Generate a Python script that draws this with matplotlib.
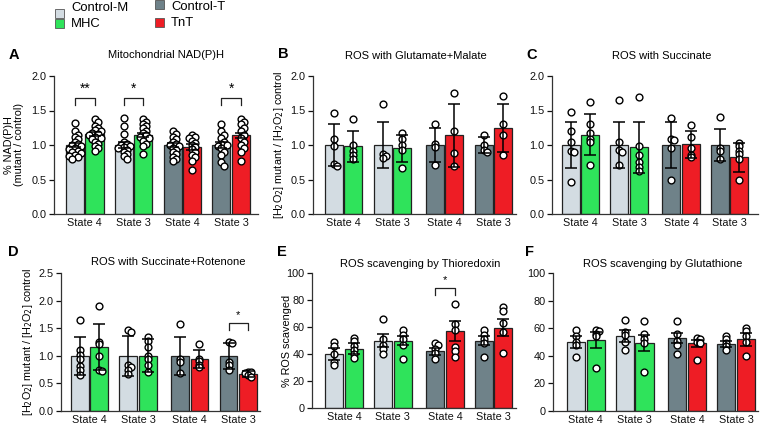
import matplotlib
matplotlib.use('Agg')
import matplotlib.pyplot as plt
import numpy as np
from matplotlib.patches import Rectangle

plt.rcParams['font.family'] = ['Liberation Sans', 'DejaVu Sans']

W, H = 766, 425

# order in every panel: Control-M S4, MHC S4, Control-M S3, MHC S3, Control-T S4, TnT S4, Control-T S3, TnT S3
series_names = ['Control-M', 'MHC', 'Control-T', 'TnT']
series_colors = ['#d3dce2', '#2fe35b', '#6f8289', '#ee1d25']
bar_colors = ['#d3dce2', '#2fe35b', '#d3dce2', '#2fe35b', '#6f8289', '#ee1d25', '#6f8289', '#ee1d25']
state_labels = ['State 4', 'State 3', 'State 4', 'State 3']

# A - Mitochondrial NAD(P)H
nadph_means = [1.0, 1.16, 1.0, 1.15, 1.0, 0.97, 1.0, 1.14]
nadph_err = [0.03, 0.03, 0.04, 0.03, 0.03, 0.04, 0.04, 0.04]
nadph_points = [
    [1.32, 1.2, 1.15, 1.12, 1.08, 1.05, 1.02, 1.0, 0.98, 0.96, 0.94, 0.92, 0.9, 0.88, 0.86, 0.84, 0.82, 0.8],
    [1.38, 1.33, 1.28, 1.25, 1.22, 1.2, 1.18, 1.16, 1.14, 1.12, 1.1, 1.08, 1.05, 1.02, 0.98, 0.95, 0.92],
    [1.39, 1.28, 1.16, 1.05, 1.02, 1.0, 0.99, 0.97, 0.95, 0.93, 0.9, 0.87, 0.84, 0.8],
    [1.37, 1.33, 1.3, 1.27, 1.24, 1.2, 1.17, 1.14, 1.12, 1.1, 1.06, 1.02, 0.98, 0.87],
    [1.2, 1.16, 1.12, 1.08, 1.05, 1.02, 1.0, 0.98, 0.96, 0.93, 0.9, 0.87, 0.83, 0.8, 0.77],
    [1.15, 1.12, 1.1, 1.06, 1.03, 1.0, 0.97, 0.94, 0.9, 0.86, 0.82, 0.77, 0.64],
    [1.31, 1.2, 1.15, 1.1, 1.05, 1.02, 1.0, 0.98, 0.95, 0.9, 0.85, 0.75, 0.7],
    [1.38, 1.34, 1.3, 1.25, 1.2, 1.15, 1.1, 1.05, 1.0, 0.95, 0.9, 0.77],
]

# B - ROS with Glutamate+Malate
gm_means = [1.0, 0.98, 1.0, 0.95, 1.0, 1.14, 1.0, 1.25]
gm_err = [0.31, 0.23, 0.33, 0.2, 0.24, 0.46, 0.12, 0.35]
gm_points = [
    [1.47, 1.09, 0.99, 0.72, 0.70],
    [1.38, 1.0, 0.91, 0.86, 0.79],
    [1.59, 0.87, 0.84, 0.81],
    [1.17, 1.08, 1.0, 0.93, 0.67],
    [1.3, 1.01, 0.97, 0.71],
    [1.76, 1.21, 0.89, 0.7],
    [1.14, 1.0, 0.93, 0.9],
    [1.71, 1.3, 1.15, 0.85],
]

# C - ROS with Succinate
suc_means = [1.0, 1.15, 1.0, 0.97, 1.0, 1.01, 1.0, 0.82]
suc_err = [0.34, 0.3, 0.34, 0.37, 0.33, 0.2, 0.23, 0.21]
suc_points = [
    [1.48, 1.2, 1.04, 0.92, 0.9, 0.47],
    [1.63, 1.3, 1.17, 1.08, 1.04, 0.71],
    [1.65, 1.05, 0.93, 0.9, 0.71],
    [1.7, 0.99, 0.86, 0.76, 0.68, 0.62],
    [1.39, 1.08, 1.07, 0.96, 0.5],
    [1.29, 1.11, 0.96, 0.86, 0.82],
    [1.41, 0.96, 0.92, 0.8],
    [1.03, 0.98, 0.92, 0.87, 0.79, 0.5],
]

# D - ROS with Succinate+Rotenone
rot_means = [1.0, 1.16, 1.0, 1.0, 1.0, 0.94, 1.0, 0.67]
rot_err = [0.34, 0.42, 0.36, 0.3, 0.34, 0.16, 0.24, 0.06]
rot_points = [
    [1.64, 1.1, 1.02, 0.95, 0.81, 0.74, 0.66],
    [1.9, 1.25, 1.21, 1.0, 0.75, 0.72],
    [1.47, 1.44, 0.83, 0.8, 0.74, 0.67],
    [1.34, 1.27, 1.16, 0.99, 0.95, 0.83, 0.71],
    [1.58, 0.95, 0.89, 0.68],
    [1.21, 0.95, 0.9, 0.84, 0.8],
    [1.25, 1.23, 0.89, 0.83, 0.75],
    [0.71, 0.7, 0.68, 0.65, 0.62],
]

# E - ROS scavenging by Thioredoxin
trx_means = [40, 44, 50, 50, 42, 57, 50, 59.5]
trx_err = [4.5, 3.8, 5.0, 3.5, 2.5, 7.5, 3.0, 6.5]
trx_points = [
    [49, 46, 40, 34, 32],
    [52, 50, 46, 43, 40, 37],
    [66, 51, 47, 44, 40],
    [58, 54, 51, 47, 36],
    [48, 47, 44, 41, 36],
    [77, 62, 58, 45, 42, 38],
    [58, 54, 51, 48, 38],
    [75, 72, 63, 56, 41],
]

# F - ROS scavenging by Glutathione
gsh_means = [50, 51.5, 54.5, 49, 53, 49, 48.5, 52]
gsh_err = [4.2, 6.0, 4.3, 5.8, 3.8, 2.8, 1.9, 4.8]
gsh_points = [
    [59, 54, 50, 48, 39],
    [59, 58, 56, 54, 31],
    [66, 57, 55, 50, 44],
    [65, 56, 52, 49, 28],
    [65, 56, 51, 48, 41],
    [53, 52, 50, 49, 37],
    [54, 52, 49, 47, 44],
    [60, 58, 54, 50, 40],
]

fig = plt.figure(figsize=(W / 100, H / 100), dpi=100)


def px_rect(left, right, top, bottom):
    return [left / W, 1 - bottom / H, (right - left) / W, (bottom - top) / H]


def swarm(values, px_per_unit, gap, step=3.0):
    # place points so circles don't pile up exactly (prism style column)
    placed = []
    offs = []
    for v in values:
        y = v * px_per_unit
        for k in [0, 1, -1, 2, -2, 3, -3]:
            x = k * step
            if all((x - px) ** 2 + (y - py) ** 2 >= gap ** 2 for px, py in placed):
                break
        placed.append((x, y))
        offs.append(x)
    return offs


def panel(rect, xlim, ylim, yticks, fmt, means, err, points, positions, title, title_x, title_y,
          letter, letter_xy, ylabel=None, label_x=None, gap=2.2):
    ax = fig.add_axes(px_rect(*rect))
    ax.set_xlim(xlim)
    ax.set_ylim(ylim)
    width_px = rect[1] - rect[0]
    u = width_px / (xlim[1] - xlim[0])
    px_per_unit = (rect[3] - rect[2]) / (ylim[1] - ylim[0])
    xs = []
    for g in positions:
        xs += [g - 0.2, g + 0.2]
    ax.bar(xs, means, width=0.37, color=bar_colors, edgecolor='#222222', linewidth=0.9, zorder=1)
    for x, pts in zip(xs, points):
        offs = swarm(pts, px_per_unit, gap)
        ax.scatter([x + o / u for o in offs], pts, s=24, facecolor='white', edgecolor='black',
                   linewidth=1.0, zorder=2)
    ax.errorbar(xs, means, yerr=err, fmt='none', ecolor='black', elinewidth=1.1, capsize=4,
                capthick=1.1, zorder=3)
    ax.set_xticks(positions)
    ax.set_xticklabels(state_labels)
    ax.set_yticks(yticks)
    ax.set_yticklabels([fmt.format(t) for t in yticks])
    ax.tick_params(axis='x', length=0, pad=3, labelsize=7.8, colors='#111111')
    ax.tick_params(axis='y', length=3.5, width=0.9, pad=2, labelsize=7.8, colors='#111111')
    for s in ['top', 'right']:
        ax.spines[s].set_visible(False)
    for s in ['left', 'bottom']:
        ax.spines[s].set_linewidth(0.9)
        ax.spines[s].set_color('#333333')
    ax.patch.set_alpha(0)
    if ylabel:
        ax.set_ylabel(ylabel, fontsize=7.8, va='center', ha='center', linespacing=1.1)
        ax.yaxis.set_label_coords((label_x - rect[0]) / width_px, 0.5)
    fig.text(title_x / W, 1 - title_y / H, title, fontsize=8, ha='center', va='center')
    fig.text(letter_xy[0] / W, 1 - letter_xy[1] / H, letter, fontsize=10.5, fontweight='bold',
             ha='center', va='center')
    return ax, xs


def bracket(ax, x1, x2, y0, y1, stars, size):
    ax.plot([x1, x1, x2, x2], [y0, y1, y1, y0], color='#222222', lw=0.9, zorder=4, clip_on=False)
    ax.text((x1 + x2) / 2, y1 + (y1 - y0) * 0.35, stars, ha='center', va='bottom', fontsize=size,
            zorder=4, clip_on=False)


pos_a = [0, 1, 2, 3]
pos = [0, 1, 2.07, 3.07]
t1 = [0, 0.5, 1.0, 1.5, 2.0]

axA, xsA = panel((54, 258, 76, 214), (-0.63, 3.55), (0, 2), t1, '{:.1f}', nadph_means, nadph_err,
                 nadph_points, pos_a, 'Mitochondrial NAD(P)H', 166, 55, 'A', (14, 55),
                 '% NAD(P)H\n(mutant / control)', 14, gap=3.6)
for i in [0, 1, 3]:
    bracket(axA, xsA[2 * i], xsA[2 * i + 1], 1.58, 1.68, '**' if i == 0 else '*', 10)

h2o2 = '[H$_2$O$_2$] mutant / [H$_2$O$_2$] control'
axB, _ = panel((313, 516, 76, 214), (-0.624, 3.53), (0, 2), t1, '{:.1f}', gm_means, gm_err,
               gm_points, pos, 'ROS with Glutamate+Malate', 416, 56, 'B', (283, 54), h2o2, 279)
axC, _ = panel((552, 758, 76, 214), (-0.59, 3.66), (0, 2), t1, '{:.1f}', suc_means, suc_err,
               suc_points, pos, 'ROS with Succinate', 662, 56, 'C', (532, 55))
axD, xsD = panel((61, 260, 273, 411), (-0.59, 3.52), (0, 2.5), [0, 0.5, 1.0, 1.5, 2.0, 2.5], '{:.1f}',
                 rot_means, rot_err, rot_points, pos, 'ROS with Succinate+Rotenone', 168, 262, 'D',
                 (13, 252), h2o2, 28)
bracket(axD, xsD[6], xsD[7], 1.46, 1.6, '*', 8)
axE, xsE = panel((312, 516, 273, 408), (-0.66, 3.53), (0, 100), [0, 20, 40, 60, 80, 100], '{:.0f}',
                 trx_means, trx_err, trx_points, pos, 'ROS scavenging by Thioredoxin', 420, 264, 'E',
                 (282, 252), '% ROS scavenged', 287)
bracket(axE, xsE[4], xsE[5], 84, 89, '*', 8)
axF, _ = panel((553, 758, 273, 411), (-0.67, 3.52), (0, 100), [0, 20, 40, 60, 80, 100], '{:.0f}',
               gsh_means, gsh_err, gsh_points, pos, 'ROS scavenging by Glutathione', 663, 264, 'F',
               (530, 252))

# legend at top
legend_spots = [(55, 9, 71, 8), (55, 19, 71, 24), (155, 0, 171, 7), (155, 18, 171, 23)]
for name, color, (sx, sy, tx, ty) in zip(series_names, series_colors, legend_spots):
    fig.add_artist(Rectangle((sx / W, 1 - (sy + 9) / H), 9 / W, 9 / H, transform=fig.transFigure,
                             facecolor=color, edgecolor='#555555', linewidth=0.6))
    fig.text(tx / W, 1 - ty / H, name, fontsize=9.4, ha='left', va='center')

fig.savefig('out.png', dpi=100)
